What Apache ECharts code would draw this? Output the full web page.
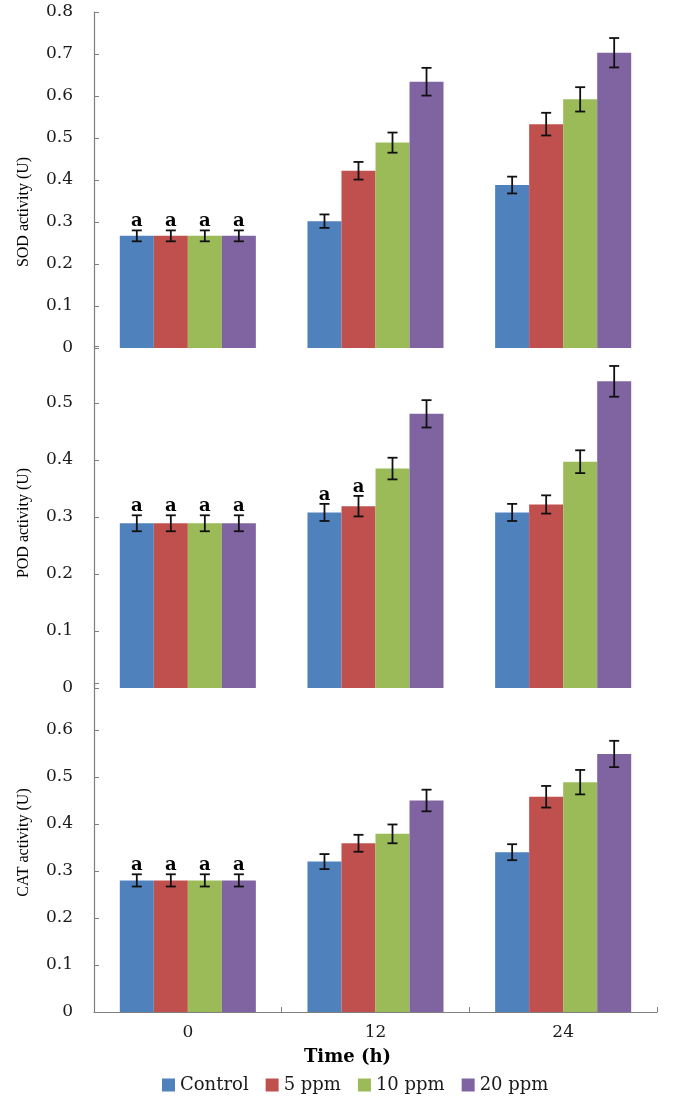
<!DOCTYPE html>
<html><head><meta charset="utf-8">
<script src="https://cdn.jsdelivr.net/npm/echarts@6/dist/echarts.min.js"></script>
<style>html,body{margin:0;padding:0;background:#fff}#c{width:674px;height:1098px}</style>
</head><body><div id="c"></div>
<script>
const categories = ['0', '12', '24'];
const seriesNames = ['Control', '5 ppm', '10 ppm', '20 ppm'];
const colors = ['#4F81BD', '#C0504D', '#9BBB59', '#8064A2'];

// SOD activity (U): rows = series, columns = time
const sodMeans = [[0.267, 0.302, 0.388], [0.267, 0.422, 0.533], [0.267, 0.489, 0.592], [0.267, 0.634, 0.703]];
const sodErrors = [[0.013, 0.016, 0.020], [0.013, 0.021, 0.027], [0.013, 0.024, 0.029], [0.013, 0.033, 0.035]];
const sodLetters = [['a', '', ''], ['a', '', ''], ['a', '', ''], ['a', '', '']];

// POD activity (U)
const podMeans = [[0.289, 0.308, 0.308], [0.289, 0.319, 0.322], [0.289, 0.385, 0.397], [0.289, 0.481, 0.538]];
const podErrors = [[0.014, 0.015, 0.015], [0.014, 0.018, 0.016], [0.014, 0.019, 0.020], [0.014, 0.024, 0.027]];
const podLetters = [['a', 'a', ''], ['a', 'a', ''], ['a', '', ''], ['a', '', '']];

// CAT activity (U)
const catMeans = [[0.28, 0.32, 0.34], [0.28, 0.359, 0.458], [0.28, 0.379, 0.489], [0.28, 0.45, 0.549]];
const catErrors = [[0.013, 0.016, 0.017], [0.013, 0.018, 0.023], [0.013, 0.020, 0.026], [0.013, 0.023, 0.028]];
const catLetters = [['a', '', ''], ['a', '', ''], ['a', '', ''], ['a', '', '']];

const axisNames = ['SOD activity (U)', 'POD activity (U)', 'CAT activity (U)'];
const axisMax = [0.8, 0.6, 0.7];
const xName = 'Time (h)';

const FONT = '"Liberation Serif", "Times New Roman", serif';
const WFONT = '"DejaVu Serif", serif';
const GAP = 0.275;

const panels = [
  { means: sodMeans, errors: sodErrors, letters: sodLetters },
  { means: podMeans, errors: podErrors, letters: podLetters },
  { means: catMeans, errors: catErrors, letters: catLetters }
];
const gridPos = [
  { top: 12, height: 336 },
  { top: 346, height: 342 },
  { top: 683, height: 329 }
];
const namePad = [[0, 64, 0, 0], [0, 12, 0, 0], [0, 0, 0, 10]];

const grids = gridPos.map(g => ({ left: 94, right: 17, top: g.top, height: g.height }));

const xAxes = gridPos.map((g, i) => {
  const last = i === gridPos.length - 1;
  return {
    type: 'category', gridIndex: i, data: categories, show: last,
    axisLine: { show: last, lineStyle: { color: '#7f7f7f', width: 1.2 } },
    axisTick: { show: last, inside: true, length: 5, lineStyle: { color: '#7f7f7f' } },
    axisLabel: { show: last, color: '#1a1a1a', fontFamily: WFONT, fontSize: 17, margin: 12 },
    name: last ? xName : '', nameLocation: 'middle', nameGap: 36,
    nameTextStyle: { color: '#000', fontFamily: WFONT, fontSize: 18, fontWeight: 'bold', padding: [0, 56, 0, 0] }
  };
});

const yAxes = gridPos.map((g, i) => ({
  type: 'value', gridIndex: i, min: 0, max: axisMax[i], interval: 0.1,
  axisLine: { show: true, lineStyle: { color: '#7f7f7f', width: 1.2 } },
  axisTick: { show: true, inside: true, length: 5, lineStyle: { color: '#7f7f7f' } },
  splitLine: { show: false },
  axisLabel: {
    color: '#1a1a1a', fontFamily: WFONT, fontSize: 17, margin: 21,
    formatter: v => (i > 0 && Math.abs(v - axisMax[i]) < 1e-9) ? '' : String(+v.toFixed(1))
  },
  name: axisNames[i], nameLocation: 'middle', nameGap: 62,
  nameTextStyle: { color: '#000', fontFamily: FONT, fontSize: 16, padding: namePad[i] }
}));

const series = [];
panels.forEach((p, pi) => {
  seriesNames.forEach((name, si) => {
    series.push({
      type: 'bar', name, xAxisIndex: pi, yAxisIndex: pi,
      data: p.means[si], barGap: '0%', barCategoryGap: (GAP * 100) + '%',
      itemStyle: { color: colors[si] }, z: 2
    });
  });
  const errData = [];
  seriesNames.forEach((name, si) => {
    categories.forEach((c, ci) => {
      errData.push([ci, p.means[si][ci], si, p.errors[si][ci]]);
    });
  });
  series.push({
    type: 'custom', xAxisIndex: pi, yAxisIndex: pi, z: 5, silent: true,
    encode: { x: 0, y: 1 },
    data: errData,
    renderItem: function (params, api) {
      const ci = api.value(0), v = api.value(1), si = api.value(2), e = api.value(3);
      const band = api.size([1, 0])[0];
      const bw = band * (1 - GAP) / 4;
      const cx = api.coord([ci, v])[0] + (si - 1.5) * bw;
      const yT = api.coord([ci, v + e])[1];
      const yB = api.coord([ci, v - e])[1];
      const cap = 5;
      const st = { stroke: '#111', lineWidth: 1.8 };
      const children = [
        { type: 'line', shape: { x1: cx, y1: yT, x2: cx, y2: yB }, style: st },
        { type: 'line', shape: { x1: cx - cap, y1: yT, x2: cx + cap, y2: yT }, style: st },
        { type: 'line', shape: { x1: cx - cap, y1: yB, x2: cx + cap, y2: yB }, style: st }
      ];
      const letter = p.letters[si][ci];
      if (letter) {
        children.push({
          type: 'text',
          style: { text: letter, x: cx, y: yT, align: 'center', verticalAlign: 'bottom',
                   font: 'bold 18px ' + WFONT, fill: '#000' }
        });
      }
      return { type: 'group', children };
    }
  });
});

const chart = echarts.init(document.getElementById('c'), null, { renderer: 'canvas' });
chart.setOption({
  animation: false,
  backgroundColor: '#fff',
  grid: grids,
  xAxis: xAxes,
  yAxis: yAxes,
  legend: {
    data: seriesNames, left: 157, top: 1071, icon: 'rect', itemWidth: 13, itemHeight: 13, itemGap: 17,
    textStyle: { color: '#1a1a1a', fontFamily: WFONT, fontSize: 18 }
  },
  series
});
</script></body></html>
